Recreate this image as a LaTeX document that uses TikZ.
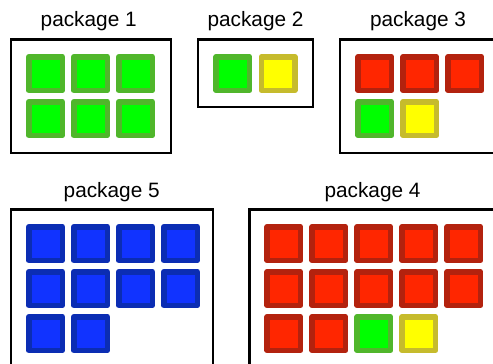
\documentclass[tikz,border=0pt]{standalone}
\usepackage{fontspec}
\setmainfont{Liberation Sans}
\definecolor{gIn}{HTML}{00FF00}\definecolor{gOut}{HTML}{50B62B}
\definecolor{yIn}{HTML}{FFFF00}\definecolor{yOut}{HTML}{C6BB2C}
\definecolor{rIn}{HTML}{FF2600}\definecolor{rOut}{HTML}{B3220E}
\definecolor{bIn}{HTML}{1133FF}\definecolor{bOut}{HTML}{0B2DB3}
\tikzset{
  sq/.style={draw, line width=5.5pt, line join=round, minimum size=33.5pt, inner sep=0pt, outer sep=0pt},
  gsq/.style={sq, draw=gOut, fill=gIn},
  ysq/.style={sq, draw=yOut, fill=yIn},
  rsq/.style={sq, draw=rOut, fill=rIn},
  bsq/.style={sq, draw=bOut, fill=bIn},
  pkg/.style={draw=black, line width=2.6pt},
  lbl/.style={font=\fontsize{20.8}{24}\selectfont, anchor=base, inner sep=0pt}
}
\begin{document}
\begin{tikzpicture}[x=1pt,y=-1pt]
\useasboundingbox (0,0) rectangle (493,364);
\clip (0,0) rectangle (493,364);
% package 1
\node[lbl] (l1) at (88.7,26.7) {package 1};
\draw[pkg] (11,39.5) rectangle (171,153) coordinate (b1);
\foreach \c [count=\i] in {45.5,90.5,135.5}{
  \node[gsq] (p1a\i) at (\c,73.5) {};
  \node[gsq] (p1b\i) at (\c,118.5) {};
}
% package 2
\node[lbl] (l2) at (255.5,26.7) {package 2};
\draw[pkg] (198,39.5) rectangle (313,107);
\node[gsq] (p2a) at (232.8,73.5) {};
\node[ysq] (p2b) at (278,73.5) {};
% package 3
\node[lbl] (l3) at (418,26.7) {package 3};
\draw[pkg] (340,39.5) rectangle (520,153);
\foreach \c [count=\i] in {374.8,419.8,464.8}{
  \node[rsq] (p3a\i) at (\c,73.5) {};
}
\node[gsq] (p3b1) at (374.8,118.5) {};
\node[ysq] (p3b2) at (419.8,118.5) {};
% package 5
\node[lbl] (l5) at (111.7,197.3) {package 5};
\draw[pkg] (11,209.5) rectangle (213,400);
\foreach \c [count=\i] in {45.5,90.5,135.5,180.5}{
  \node[bsq] (p5a\i) at (\c,243.5) {};
  \node[bsq] (p5b\i) at (\c,288.5) {};
}
\node[bsq] (p5c1) at (45.5,333.5) {};
\node[bsq] (p5c2) at (90.5,333.5) {};
% package 4
\node[lbl] (l4) at (372.5,197.3) {package 4};
\draw[pkg] (249.5,209.5) rectangle (520,400);
\foreach \c [count=\i] in {283.8,328.8,373.8,418.8,463.8}{
  \node[rsq] (p4a\i) at (\c,243.5) {};
  \node[rsq] (p4b\i) at (\c,288.5) {};
}
\node[rsq] (p4c1) at (283.8,333.5) {};
\node[rsq] (p4c2) at (328.8,333.5) {};
\node[gsq] (p4c3) at (373.8,333.5) {};
\node[ysq] (p4c4) at (418.8,333.5) {};
\end{tikzpicture}
\end{document}
